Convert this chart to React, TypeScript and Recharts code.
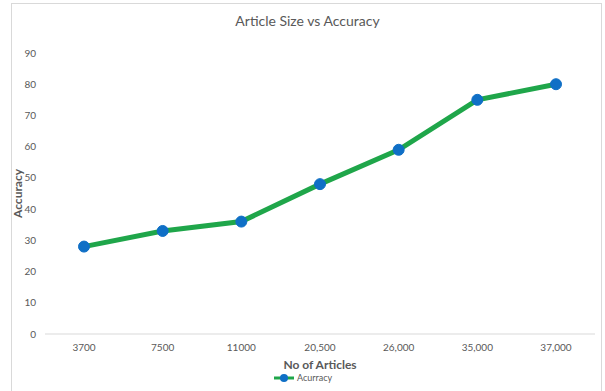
import { LineChart, Line, XAxis, YAxis, Legend } from 'recharts'

const articleCounts = ['3700', '7500', '11000', '20,500', '26,000', '35,000', '37,000']
const accuracy = [28, 33, 36, 48, 59, 75, 80]
const yTicks = [0, 10, 20, 30, 40, 50, 60, 70, 80, 90]

const data = articleCounts.map((articles, i) => ({ articles, accuracy: accuracy[i] }))

const FONT = 'Lato, "Open Sans", sans-serif'
const LINE_COLOR = '#1fa64a'
const DOT_COLOR = '#0f6fc6'

function LegendContent() {
    return (
        <div style={{ display: 'flex', justifyContent: 'center', alignItems: 'center', fontFamily: FONT, fontSize: 9, color: '#595959' }}>
            <svg width={22} height={10} style={{ marginRight: 2 }}>
                <line x1={1} y1={5} x2={21} y2={5} stroke={LINE_COLOR} strokeWidth={3} />
                <circle cx={11} cy={5} r={4} fill={DOT_COLOR} />
            </svg>
            <span>Acurracy</span>
        </div>
    )
}

export default function App() {
    return (
        <div style={{ position: 'absolute', left: 0, top: 0, width: 605, height: 391, background: '#fff', overflow: 'hidden' }}>
            <div style={{ position: 'absolute', left: 11, top: 3, width: 591, height: 400, border: '1px solid #d9d9d9', boxSizing: 'border-box' }} />
            <div style={{ position: 'absolute', left: 0, top: 12, width: 615, textAlign: 'center', fontFamily: FONT, fontSize: 14, color: '#595959' }}>
                Article Size vs Accuracy
            </div>
            <LineChart width={605} height={391} data={data} margin={{ top: 53, right: 10, bottom: 17, left: 0 }}>
                <XAxis
                    dataKey="articles"
                    height={40}
                    padding={{ left: 39, right: 39 }}
                    axisLine={{ stroke: '#d9d9d9' }}
                    tickLine={false}
                    tickSize={0}
                    tickMargin={10}
                    tick={{ fill: '#595959', fontSize: 10, fontFamily: FONT }}
                    label={{ value: 'No of Articles', position: 'insideBottom', offset: 5, fill: '#595959', fontSize: 12, fontWeight: 700, fontFamily: FONT }}
                />
                <YAxis
                    width={45}
                    domain={[0, 90]}
                    ticks={yTicks}
                    axisLine={false}
                    tickLine={false}
                    tickSize={0}
                    tickMargin={9}
                    tick={{ fill: '#595959', fontSize: 10, fontFamily: FONT }}
                    label={{ value: 'Accuracy', angle: -90, position: 'insideLeft', offset: 18, fill: '#595959', fontSize: 12, fontWeight: 700, fontFamily: FONT, style: { textAnchor: 'middle' } }}
                />
                <Legend layout="horizontal" verticalAlign="middle" align="center" wrapperStyle={{ top: 372, left: 0, width: 605 }} content={<LegendContent />} />
                <Line
                    type="linear"
                    dataKey="accuracy"
                    name="Acurracy"
                    stroke={LINE_COLOR}
                    strokeWidth={5}
                    dot={{ r: 5.5, fill: DOT_COLOR, stroke: DOT_COLOR, strokeWidth: 1 }}
                    activeDot={false}
                    isAnimationActive={false}
                />
            </LineChart>
        </div>
    )
}
